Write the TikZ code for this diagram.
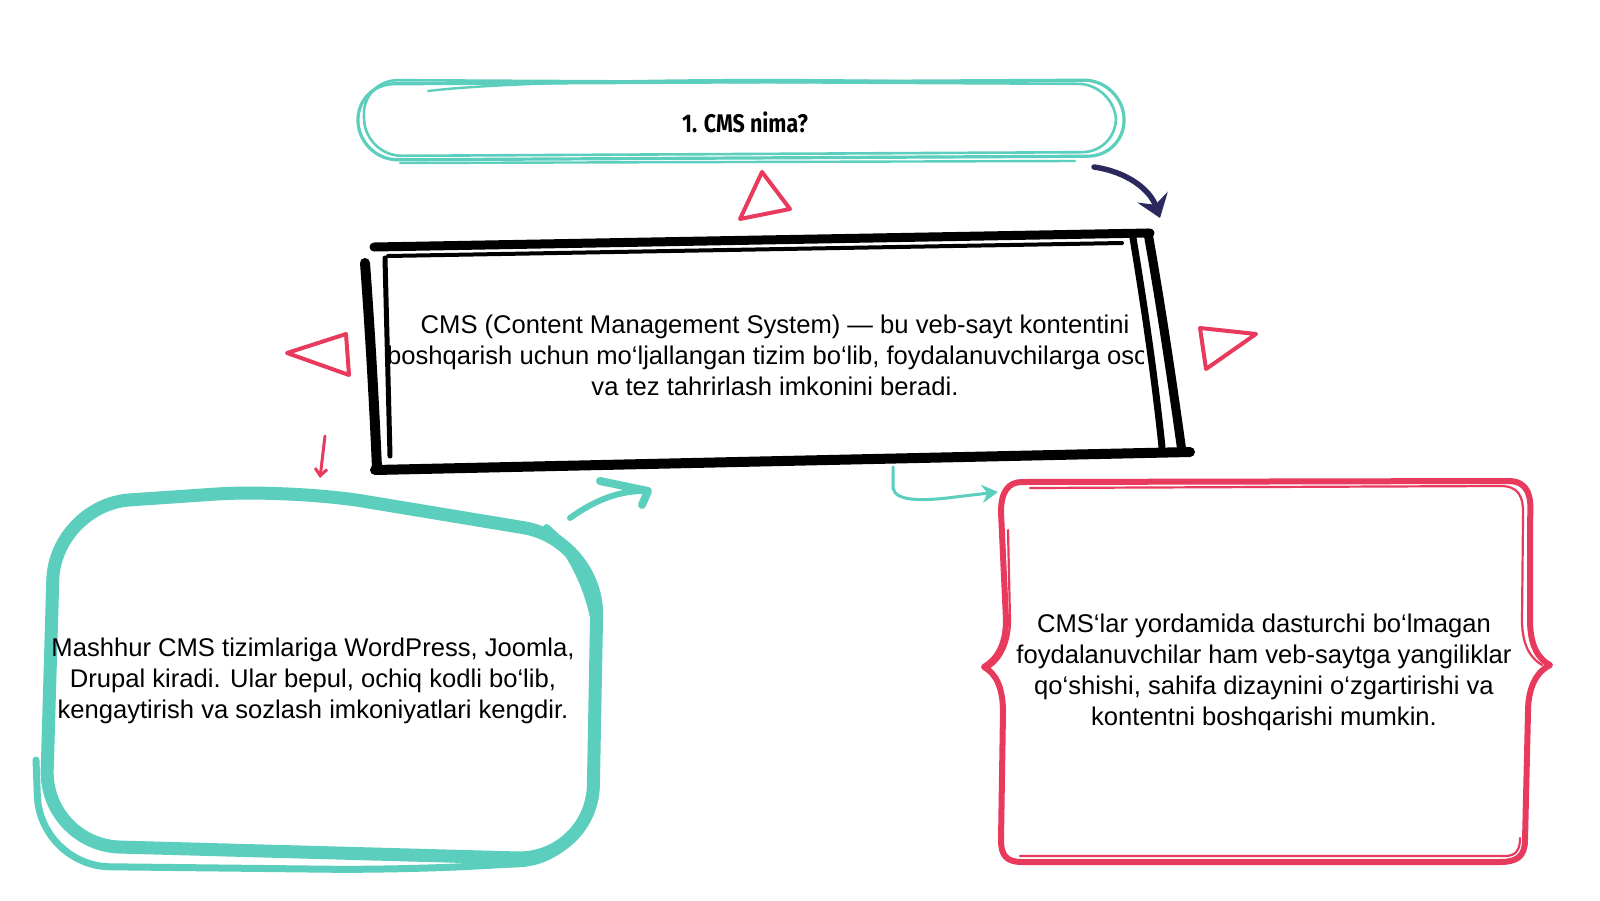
\documentclass[tikz,border=0pt]{standalone}
\usepackage{fontspec}
\setmainfont{Liberation Sans}
\newfontfamily\titlefont{Fira Sans}[FakeStretch=0.84]
\usetikzlibrary{arrows.meta}
\definecolor{tealc}{RGB}{92,206,190}
\definecolor{redc}{RGB}{232,58,92}
\definecolor{navyc}{RGB}{42,40,92}
\tikzset{
  bodytext/.style={align=center,font=\fontsize{25.6}{31}\selectfont,text=black,inner sep=0pt},
  tealline/.style={draw=tealc,line cap=round,line join=round},
  redline/.style={draw=redc,line cap=round,line join=round},
  blackline/.style={draw=black,line cap=round,line join=round},
  tri/.style={draw=redc,line width=4,line join=round}
}
\begin{document}
\begin{tikzpicture}[x=1pt,y=-1pt]
\useasboundingbox[fill=white] (0,0) rectangle (1600,900);

% ---------- title box ----------
\draw[tealline,line width=3.2,rounded corners=38] (356,84) -- (1122,80) -- (1126,156) -- (360,160) -- cycle;
\draw[tealline,line width=2.6,rounded corners=36] (362,80) -- (1114,84) -- (1118,152) -- (366,156) -- cycle;
\draw[tealline,line width=2.4] (400,163) -- (1075,161);
\draw[tealline,line width=2.4] (428,91) .. controls (520,80) and (760,78) .. (950,82);
\node[font=\titlefont\bfseries\fontsize{25.5}{28}\selectfont] (title) at (745,122) {1. CMS nima?};

% ---------- central text (clipped by box) ----------
\begin{scope}
\clip (384,240) rectangle (1143,470);
\node[bodytext] (cms) at (775,355) {CMS (Content Management System) — bu veb-sayt kontentini\\
boshqarish uchun mo‘ljallangan tizim bo‘lib, foydalanuvchilarga oson\\
va tez tahrirlash imkonini beradi.};
\end{scope}

% ---------- central black box ----------
\draw[blackline,line width=9] (374,247) -- (1150,233);
\draw[blackline,line width=4] (388,256) -- (1122,243);
\draw[blackline,line width=10] (365,263) .. controls (370,330) and (374,400) .. (377,468);
\draw[blackline,line width=5] (385,258) -- (390,456);
\draw[blackline,line width=9] (1148,233) .. controls (1160,300) and (1172,380) .. (1182,452);
\draw[blackline,line width=7] (1133,238) .. controls (1145,310) and (1155,380) .. (1162,447);
\draw[blackline,line width=10] (375,470) -- (1190,452);

% ---------- left teal box ----------
\draw[tealline,line width=13,rounded corners=75] (55,505) -- (290,489) -- (598,540) -- (592,860) -- (45,845) -- cycle;
\draw[tealline,line width=7,rounded corners=70] (560,540) -- (598,575) -- (590,860) -- (400,870) -- (40,866) -- (36,760);
\node[bodytext] (left) at (313,681) {Mashhur CMS tizimlariga WordPress, Joomla,\\
Drupal kiradi. Ular bepul, ochiq kodli bo‘lib,\\
kengaytirish va sozlash imkoniyatlari kengdir.};

% ---------- right red box ----------
\draw[redline,line width=6] (1022,482) -- (1508,481) .. controls (1528,481) and (1532,495) .. (1530,520) -- (1530,620) .. controls (1530,648) and (1540,660) .. (1550,665) .. controls (1538,671) and (1528,685) .. (1528,712) -- (1525,840) .. controls (1525,857) and (1516,862) .. (1500,862) -- (1022,862) .. controls (1006,862) and (1001,855) .. (1001,840) -- (1003,712) .. controls (1003,686) and (995,673) .. (984,667) .. controls (996,660) and (1006,646) .. (1006,620) -- (1001,512) .. controls (1001,492) and (1008,482) .. (1022,482) -- cycle;
\draw[redline,line width=2.2] (1030,488) -- (1500,486) .. controls (1518,486) and (1524,495) .. (1523,518) -- (1522,620) .. controls (1522,650) and (1534,660) .. (1542,665);
\draw[redline,line width=2.2] (1008,530) -- (1010,620) .. controls (1010,645) and (1000,660) .. (990,667);
\draw[redline,line width=2.2] (1020,856) -- (1505,856) .. controls (1516,856) and (1520,850) .. (1520,838);
\node[bodytext] (right) at (1264,672) {CMS‘lar yordamida dasturchi bo‘lmagan\\
foydalanuvchilar ham veb-saytga yangiliklar\\
qo‘shishi, sahifa dizaynini o‘zgartirishi va\\
kontentni boshqarishi mumkin.};

% ---------- red triangles ----------
\draw[tri] (762,172) -- (790,209) -- (740,219) -- cycle;
\draw[tri] (287,353) -- (346,334) -- (349,375) -- cycle;
\draw[tri] (1200,328) -- (1256,334) -- (1206,369) -- cycle;

% ---------- arrows ----------
\coordinate (n1) at (1094,167);
\coordinate (n2) at (1160,218);
\draw[navyc,line width=5.5,line cap=round,-{Stealth[length=22pt,width=32pt,inset=8pt]}] (n1) .. controls (1128,172) and (1150,190) .. (n2);

\coordinate (r1) at (325,436);
\coordinate (r2) at (320,478);
\draw[redc,line width=3,line cap=round,-{Straight Barb[length=7pt,width=12pt]}] (r1) -- (r2);

\coordinate (t1) at (570,518);
\coordinate (t2) at (648,491);
\draw[tealc,line width=6,line cap=round] (t1) .. controls (595,500) and (620,490) .. (t2);
\draw[tealc,line width=8,line cap=round,line join=round] (600,481) -- (t2) -- (642,505);

\coordinate (h1) at (893,467);
\coordinate (h2) at (998,492);
\draw[tealc,line width=3,line cap=round,-{Stealth[length=16pt,width=18pt]}] (h1) -- (893,488) .. controls (895,502) and (925,501) .. (955,497) -- (h2);
\end{tikzpicture}
\end{document}
